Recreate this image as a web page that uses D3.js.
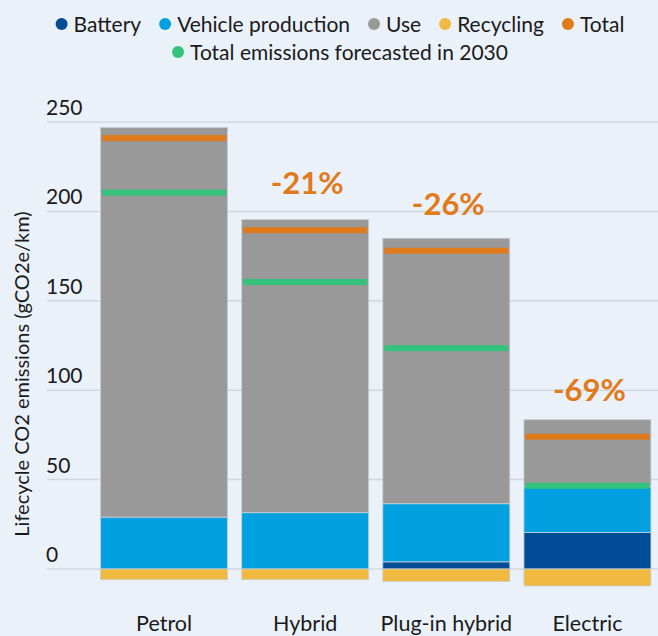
<!DOCTYPE html>
<html>
<head>
<meta charset="utf-8">
<script src="https://cdn.jsdelivr.net/npm/d3@7"></script>
<style>
  html, body { margin: 0; padding: 0; background: #EBF1F9; }
  svg { display: block; }
  text { font-family: Lato, "Noto Sans", sans-serif; fill: #1a1a1a; }
</style>
</head>
<body>
<svg id="chart" width="658" height="636"></svg>
<script>
const categories = ["Petrol", "Hybrid", "Plug-in hybrid", "Electric"];
const battery = [0, 0, 4, 20.5];
const vehicleProduction = [29, 31.5, 32.5, 25.5];
const use = [218, 164, 148.5, 37.5];
const recycling = [-6, -6, -7, -9.5];
const total = [241, 189.5, 178, 74];
const forecast2030 = [210.5, 160.5, 123.5, 46.5];
const changeLabels = ["", "-21%", "-26%", "-69%"];
const yTicks = [0, 50, 100, 150, 200, 250];

const colors = {
  battery: "#004C97",
  vehicle: "#00A0E1",
  use: "#999999",
  recycling: "#F0B940",
  total: "#E07A1B",
  forecast: "#34C37D"
};

const legendItems = [
  [{ label: "Battery", color: colors.battery }, { label: "Vehicle production", color: colors.vehicle },
   { label: "Use", color: colors.use }, { label: "Recycling", color: colors.recycling },
   { label: "Total", color: colors.total }],
  [{ label: "Total emissions forecasted in 2030", color: colors.forecast }]
];

const svg = d3.select("#chart");

const x = d3.scaleBand().domain(categories).range([93.5, 658]).paddingInner(0.1).paddingOuter(0.05);
const y = d3.scaleLinear().domain([0, 250]).range([569, 122]);

// gridlines
const grid = svg.append("g");
grid.selectAll("line").data(yTicks).join("line")
  .attr("x1", 47).attr("x2", 658)
  .attr("y1", d => y(d)).attr("y2", d => y(d))
  .attr("stroke", "#D2D8E0").attr("stroke-width", 1.5);
grid.selectAll("text").data(yTicks).join("text")
  .attr("x", 46).attr("y", d => y(d) - 7)
  .attr("font-size", 21)
  .text(d => d);

// y-axis title
svg.append("text")
  .attr("transform", "translate(29,374) rotate(-90)")
  .attr("text-anchor", "middle")
  .attr("font-size", 20)
  .text("Lifecycle CO2 emissions (gCO2e/km)");

// bars
const rows = categories.map((c, i) => ({
  c, i,
  segs: [
    { y0: 0, y1: battery[i], color: colors.battery },
    { y0: battery[i], y1: battery[i] + vehicleProduction[i], color: colors.vehicle },
    { y0: battery[i] + vehicleProduction[i], y1: battery[i] + vehicleProduction[i] + use[i], color: colors.use },
    { y0: recycling[i], y1: 0, color: colors.recycling }
  ]
}));

const barG = svg.append("g");
rows.forEach(r => {
  const g = barG.append("g");
  g.selectAll("rect").data(r.segs.filter(s => s.y1 - s.y0 > 0)).join("rect")
    .attr("x", x(r.c))
    .attr("width", x.bandwidth())
    .attr("y", s => y(s.y1))
    .attr("height", s => y(s.y0) - y(s.y1))
    .attr("fill", s => s.color)
    .attr("stroke", "#C9D0D8")
    .attr("stroke-width", 0.8);
});

// total and forecast lines
const lineG = svg.append("g");
lineG.selectAll("rect.total").data(categories).join("rect")
  .attr("class", "total")
  .attr("x", d => x(d) + 1.5).attr("width", x.bandwidth() - 3)
  .attr("y", (d, i) => y(total[i]) - 3).attr("height", 6)
  .attr("fill", colors.total);
lineG.selectAll("rect.fc").data(categories).join("rect")
  .attr("class", "fc")
  .attr("x", d => x(d) + 1.5).attr("width", x.bandwidth() - 3)
  .attr("y", (d, i) => y(forecast2030[i]) - 3).attr("height", 6)
  .attr("fill", colors.forecast);

// change labels
svg.append("g").selectAll("text").data(categories).join("text")
  .attr("x", d => x(d) + x.bandwidth() / 2 + 2)
  .attr("y", (d, i) => y(total[i]) - 36)
  .attr("text-anchor", "middle")
  .attr("font-size", 31)
  .attr("font-weight", "bold")
  .style("fill", colors.total)
  .text((d, i) => changeLabels[i]);

// category labels
svg.append("g").selectAll("text").data(categories).join("text")
  .attr("x", d => x(d) + x.bandwidth() / 2)
  .attr("y", 631)
  .attr("text-anchor", "middle")
  .attr("font-size", 21.5)
  .text(d => d);

// legend
const legendCenter = 340;
const rowY = [24, 52];
legendItems.forEach((items, ri) => {
  const g = svg.append("g");
  let cx = 0;
  items.forEach((it, k) => {
    const ig = g.append("g").attr("transform", `translate(${cx},0)`);
    ig.append("circle").attr("cx", 6).attr("cy", rowY[ri]).attr("r", 6).attr("fill", it.color);
    const t = ig.append("text").attr("x", 18).attr("y", rowY[ri] + 7.5).attr("font-size", 21).text(it.label);
    const w = t.node().getComputedTextLength();
    cx += 18 + w + (k < items.length - 1 ? 18 : 0);
  });
  g.attr("transform", `translate(${legendCenter - cx / 2},0)`);
});
</script>
</body>
</html>
